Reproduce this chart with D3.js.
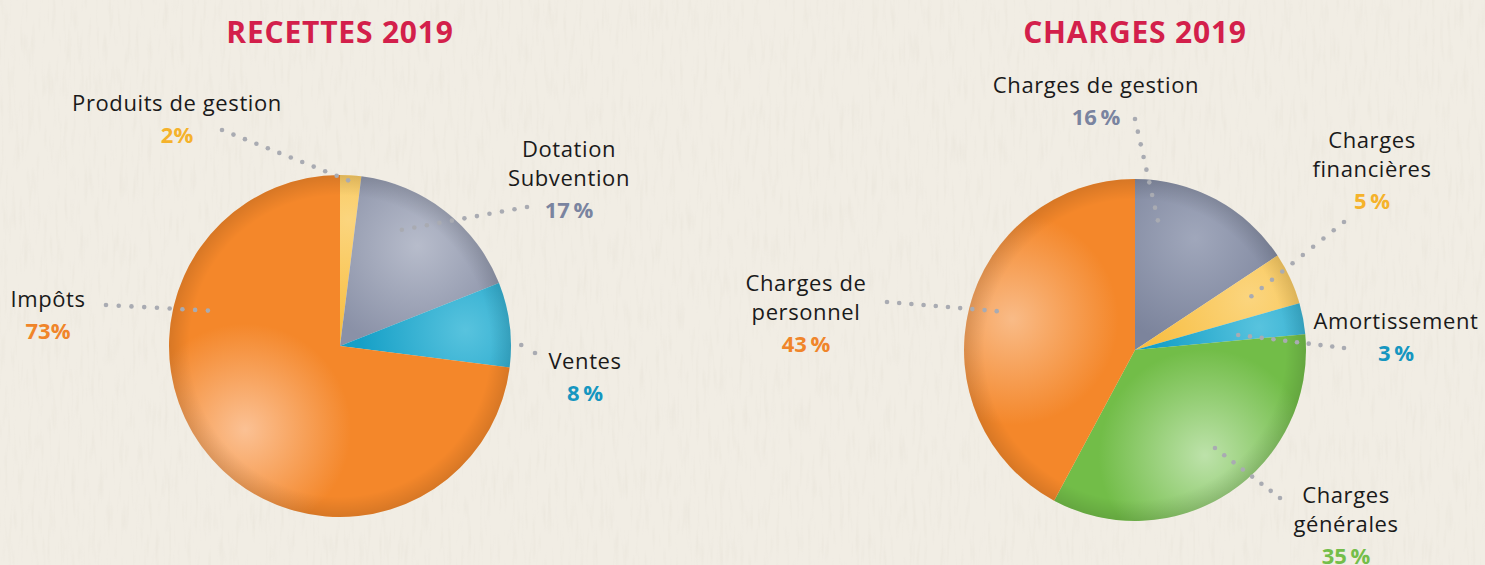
<!DOCTYPE html>
<html>
<head>
<meta charset="utf-8">
<script src="https://cdn.jsdelivr.net/npm/d3@7"></script>
<style>
  html, body { margin: 0; padding: 0; background: #f1ede4; }
  svg { display: block; }
  .name { font-family: "Open Sans", Lato, sans-serif; font-size: 22px; letter-spacing: 0.6px; fill: #1a1a1a; }
  .pct { font-family: "Open Sans", Lato, sans-serif; font-size: 22px; font-weight: 700; }
  .title { font-family: "Open Sans", Lato, sans-serif; font-size: 30px; font-weight: 700; fill: #d31f4b; letter-spacing: 0.8px; }
</style>
</head>
<body>
<svg></svg>
<script>
// Donnees
const recettesCategories = ["Produits de gestion", "Dotation Subvention", "Ventes", "Impôts"];
const recettesValues = [2, 17, 8, 73];
const recettesPct = ["2%", "17\u2009%", "8\u2009%", "73%"];

const chargesCategories = ["Charges de gestion", "Charges financières", "Amortissement", "Charges générales", "Charges de personnel"];
const chargesValues = [16, 5, 3, 35, 43];
const chargesPct = ["16\u2009%", "5\u2009%", "3\u2009%", "35\u2009%", "43\u2009%"];

// couleurs par categorie : [base, clair]
const colors = {
  "Produits de gestion": ["#f8bf45", "#fbd57e"],
  "Dotation Subvention": ["#8a91a7", "#b7bccb"],
  "Ventes": ["#16a0c7", "#58c3de"],
  "Impôts": ["#f4872a", "#fbc194"],
  "Charges de gestion": ["#7c849c", "#a0a7bb"],
  "Charges financières": ["#f8bf45", "#fbd57e"],
  "Amortissement": ["#16a0c7", "#58c3de"],
  "Charges générales": ["#72bd48", "#bde2aa"],
  "Charges de personnel": ["#f4872a", "#f9bb87"]
};
const pctColors = {
  "Produits de gestion": "#f5b22b", "Dotation Subvention": "#7a84a0", "Ventes": "#1596c0",
  "Impôts": "#f0852a", "Charges de gestion": "#7a84a0", "Charges financières": "#f5b22b",
  "Amortissement": "#1596c0", "Charges générales": "#74be4a", "Charges de personnel": "#f0852a"
};

// mise en page des etiquettes : lignes du nom, x, y premiere ligne,
// depart du pointille (angle, fraction du rayon) et arrivee (decalage au centre)
const recettesLayout = [
  { lines: ["Produits de gestion"], x: 177, y: 111, inner: [2.8, 0.97], outer: [-118, -216] },
  { lines: ["Dotation", "Subvention"], x: 569, y: 157, inner: [28, 0.77], outer: [187, -139] },
  { lines: ["Ventes"], x: 585, y: 369, inner: [89.7, 1.06], outer: [195, 7] },
  { lines: ["Impôts"], x: 48, y: 307, inner: [285, 0.8], outer: [-234, -41] }
];
const chargesLayout = [
  { lines: ["Charges de gestion"], x: 1096, y: 93, inner: [10, 0.77], outer: [0, -231] },
  { lines: ["Charges", "financières"], x: 1372, y: 148, inner: [65.2, 0.75], outer: [209, -128] },
  { lines: ["Amortissement"], x: 1396, y: 329, inner: [81.7, 0.61], outer: [209, -2] },
  { lines: ["Charges", "générales"], x: 1346, y: 503, inner: [140.8, 0.74], outer: [145, 148] },
  { lines: ["Charges de", "personnel"], x: 806, y: 291, inner: [285.7, 0.84], outer: [-248, -48] }
];

const width = 1485;
const height = 565;
const radius = 171;

let svg = d3.select("svg").attr("width", width).attr("height", height);
let defs = svg.append("defs");

// Fond papier
function drawBackground() {
  let f = defs.append("filter").attr("id", "paper")
    .attr("x", 0).attr("y", 0).attr("width", "100%").attr("height", "100%");
  f.append("feTurbulence").attr("type", "fractalNoise")
    .attr("baseFrequency", "0.25 0.03").attr("numOctaves", 2).attr("seed", 7);
  f.append("feColorMatrix").attr("type", "matrix")
    .attr("values", "0 0 0 0 0.6  0 0 0 0 0.56  0 0 0 0 0.48  0 0 0 1.4 -0.7");
  svg.append("rect").attr("width", width).attr("height", height).attr("fill", "#f1ede4");
  svg.append("rect").attr("width", width).attr("height", height)
    .attr("filter", "url(#paper)").attr("opacity", 0.22);
}

function drawPie(id, title, cx, cy, categories, values, pcts, layout) {
  let g = svg.append("g").attr("transform", "translate(" + cx + "," + cy + ")");

  svg.append("text").attr("class", "title")
    .attr("x", cx).attr("y", 43).attr("text-anchor", "middle").text(title);

  let pie = d3.pie().sort(null).value((d) => d.value);
  let arc = d3.arc().innerRadius(0).outerRadius(radius);
  let arcs = pie(categories.map((c, i) => ({ name: c, value: values[i] })));

  arcs.forEach((a, i) => {
    let mid = (a.startAngle + a.endAngle) / 2;
    let p = d3.pointRadial(mid, radius * 0.74);
    let grad = defs.append("radialGradient")
      .attr("id", id + "g" + i)
      .attr("gradientUnits", "userSpaceOnUse")
      .attr("cx", p[0]).attr("cy", p[1]).attr("r", radius * 0.62);
    grad.append("stop").attr("offset", "0%").attr("stop-color", colors[a.data.name][1]);
    grad.append("stop").attr("offset", "100%").attr("stop-color", colors[a.data.name][0]);
  });

  g.selectAll("path.slice")
    .data(arcs)
    .enter()
    .append("path")
    .attr("class", "slice")
    .attr("d", arc)
    .attr("fill", (d, i) => "url(#" + id + "g" + i + ")");

  // bord legerement assombri
  let rim = defs.append("radialGradient").attr("id", id + "rim")
    .attr("gradientUnits", "userSpaceOnUse").attr("cx", 0).attr("cy", 0).attr("r", radius);
  rim.append("stop").attr("offset", "88%").attr("stop-color", "#000").attr("stop-opacity", 0);
  rim.append("stop").attr("offset", "100%").attr("stop-color", "#000").attr("stop-opacity", 0.12);
  g.append("circle").attr("r", radius).attr("fill", "url(#" + id + "rim)");

  // pointilles
  layout.forEach((l) => {
    let a = l.inner[0] * Math.PI / 180;
    let p0 = d3.pointRadial(a, radius * l.inner[1]);
    let p1 = l.outer;
    let len = Math.hypot(p1[0] - p0[0], p1[1] - p0[1]);
    let n = Math.max(1, Math.round(len / 12.5));
    let pts = d3.range(n + 1).map((k) => [p1[0] + (p0[0] - p1[0]) * k / n, p1[1] + (p0[1] - p1[1]) * k / n]);
    g.selectAll(null).data(pts).enter().append("circle")
      .attr("cx", (d) => d[0]).attr("cy", (d) => d[1]).attr("r", 2.3)
      .attr("fill", "#a9abb2");
  });

  // etiquettes
  layout.forEach((l, i) => {
    let t = svg.append("g");
    l.lines.forEach((line, j) => {
      t.append("text").attr("class", "name")
        .attr("x", l.x).attr("y", l.y + j * 28.5)
        .attr("text-anchor", "middle").text(line);
    });
    t.append("text").attr("class", "pct")
      .attr("x", l.x).attr("y", l.y + (l.lines.length - 1) * 28.5 + 32)
      .attr("text-anchor", "middle")
      .attr("fill", pctColors[categories[i]])
      .text(pcts[i]);
  });
}

drawBackground();
drawPie("rec", "RECETTES 2019", 340, 346, recettesCategories, recettesValues, recettesPct, recettesLayout);
drawPie("cha", "CHARGES 2019", 1135, 350, chargesCategories, chargesValues, chargesPct, chargesLayout);
</script>
</body>
</html>
